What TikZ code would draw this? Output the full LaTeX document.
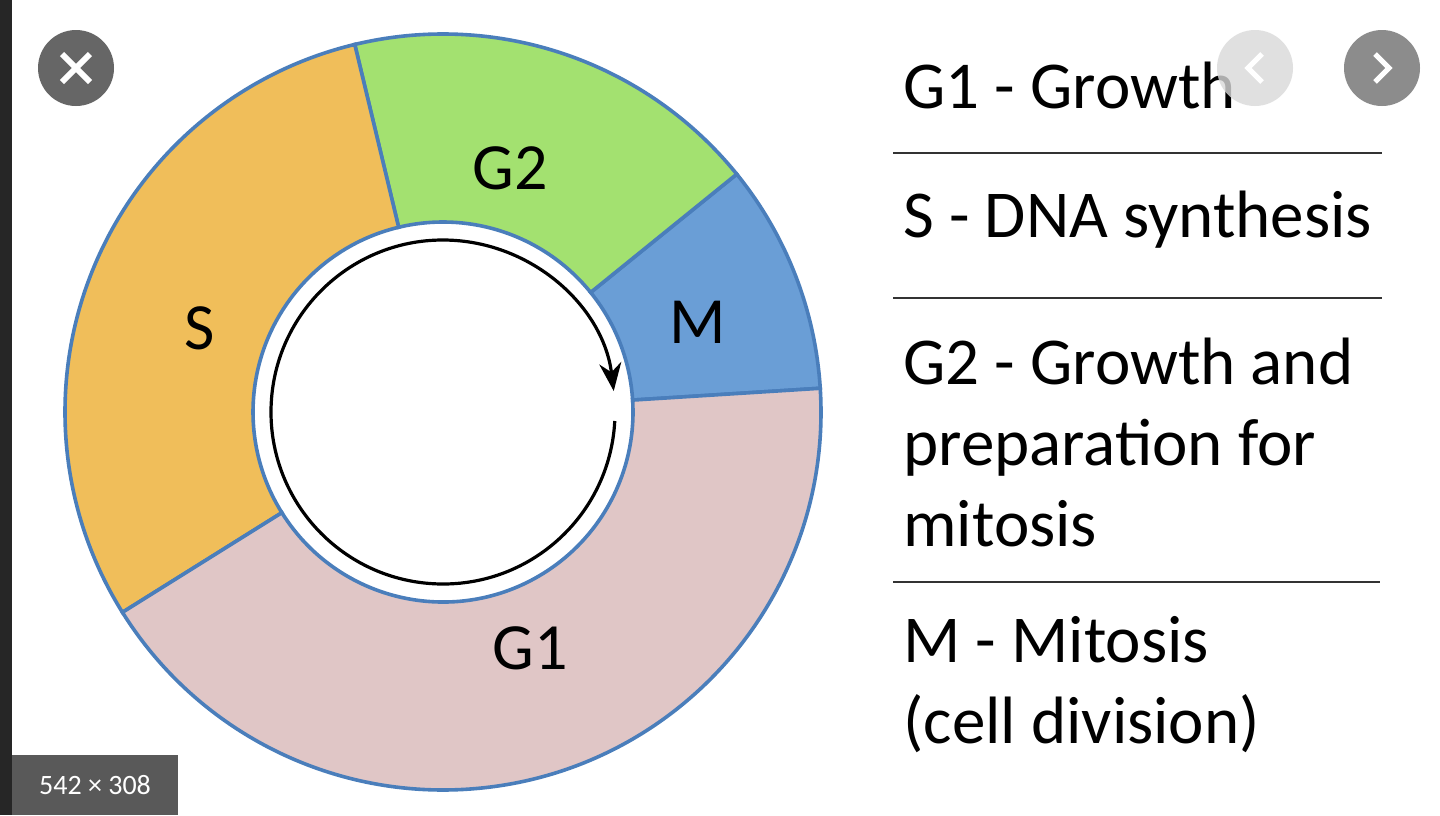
\documentclass[tikz,border=0pt]{standalone}
\usepackage{fontspec}
\setmainfont{Carlito}
\usetikzlibrary{arrows.meta}
\definecolor{sorange}{HTML}{F0BE5A}
\definecolor{ggreen}{HTML}{A3E170}
\definecolor{mblue}{HTML}{6A9ED6}
\definecolor{gpink}{HTML}{E0C6C6}
\definecolor{edge}{HTML}{4A7EBB}
\tikzset{
  sector/.style={draw=edge,line width=1.8pt},
  lab/.style={font=\fontsize{33}{38}\selectfont,inner sep=0pt},
  rtext/.style={font=\fontsize{33.5}{40.5}\selectfont,anchor=west,align=left,inner sep=0pt},
  sep/.style={line width=1pt,black!80}
}
\newcommand{\sect}[3]{\path[sector,fill=#1] (#2:190) arc[start angle=#2,end angle=#3,radius=190] -- (#3:378) arc[start angle=#3,end angle=#2,radius=378] -- cycle;}
\begin{document}
\begin{tikzpicture}[x=0.5pt,y=-0.5pt]
\useasboundingbox (0,0) rectangle (1440,815);
\fill[white] (0,0) rectangle (1440,815);
\fill[black!85] (0,0) rectangle (12,815);
\begin{scope}[shift={(443,412)},yscale=-1]
\sect{mblue}{3.6}{39}
\sect{ggreen}{39}{103.5}
\sect{sorange}{103.5}{212}
\sect{gpink}{212}{363.6}
\draw[line width=1.6pt,-{Stealth[length=14pt,width=11pt]}] (-3:172) arc[start angle=-3,end angle=-353,radius=172];
\end{scope}
\node[lab] (g2) at (510,168) {G2};
\node[lab] (s) at (200,328) {S};
\node[lab] (m) at (698,322) {M};
\node[lab] (g1) at (530,648) {G1};
\node[rtext] (t1) at (903,85) {G1 - Growth};
\node[rtext] (t2) at (903,220) {S - DNA synthesis};
\node[rtext] (t3) at (903,442) {G2 - Growth and\\preparation for\\mitosis};
\node[rtext] (t4) at (903,685) {M - Mitosis\\(cell division)};
\draw[sep] (893,153) -- (1382,153);
\draw[sep] (893,298) -- (1382,298);
\draw[sep] (893,582) -- (1380,582);
% screenshot UI
\fill[black!60] (76,68) circle[radius=38];
\draw[white,line width=3pt] (62,54) -- (90,82) (62,82) -- (90,54);
\fill[black!15,opacity=0.8] (1255,68) circle[radius=38];
\draw[white,line width=2.5pt] (1262,54) -- (1248,68) -- (1262,82);
\fill[black!45] (1382,68) circle[radius=38];
\draw[white,line width=2.5pt] (1375,54) -- (1389,68) -- (1375,82);
\fill[black!65] (12,755) rectangle (178,815);
\node[font=\fontsize{14}{16}\selectfont,text=white] (sz) at (95,785) {542 × 308};
\end{tikzpicture}
\end{document}
